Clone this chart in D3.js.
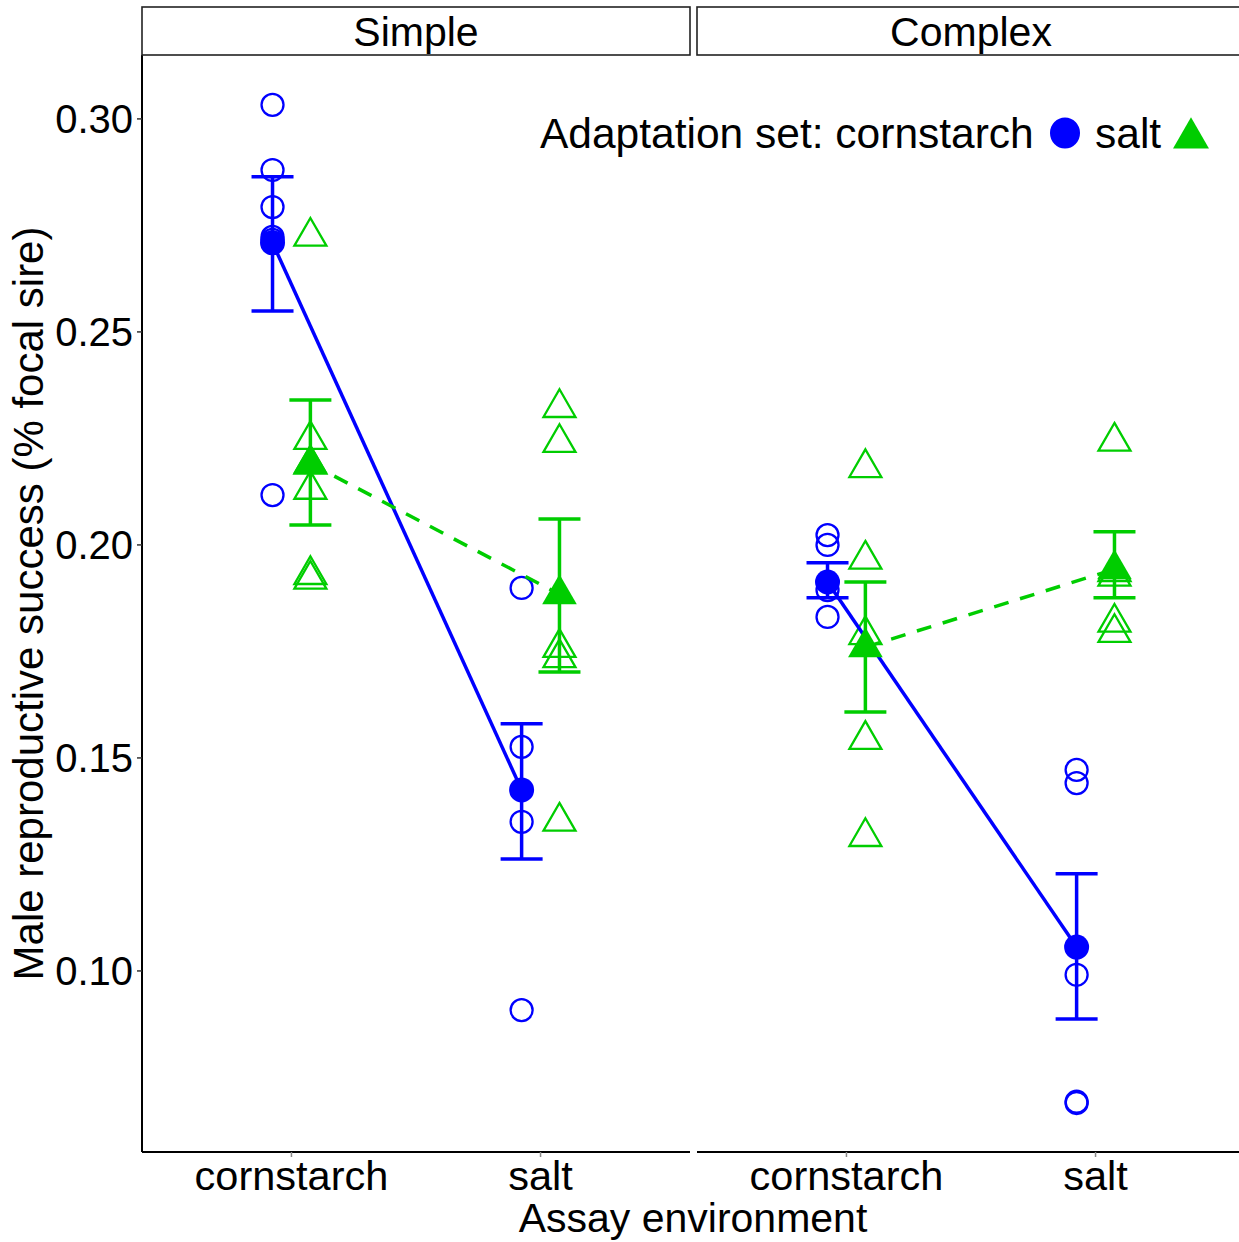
<!DOCTYPE html>
<html>
<head>
<meta charset="utf-8">
<script src="https://cdn.jsdelivr.net/npm/d3@7"></script>
<style>
  body { margin: 0; background: #fff; }
  text { font-family: "Liberation Sans", Arial, sans-serif; fill: #000; }
</style>
</head>
<body>
<div id="chart"></div>
<script>
// facets, assay environments, adaptation sets
const facets = ["Simple", "Complex"];
const environments = ["cornstarch", "salt"];
const adaptationSets = ["cornstarch", "salt"];
const yTicks = [0.10, 0.15, 0.20, 0.25, 0.30];

// replicate values (open symbols)
const simpleCornByCorn = [0.3033, 0.2880, 0.2793, 0.2723, 0.2716, 0.2117];
const simpleSaltByCorn = [0.1899, 0.1526, 0.1350, 0.0908];
const complexCornByCorn = [0.2023, 0.2000, 0.1894, 0.1831];
const complexSaltByCorn = [0.1472, 0.1441, 0.0991, 0.0693, 0.0690];
const simpleCornBySalt = [0.2724, 0.2247, 0.2189, 0.2130, 0.1930, 0.1919];
const simpleSaltBySalt = [0.2322, 0.2240, 0.1759, 0.1735, 0.1351];
const complexCornBySalt = [0.2181, 0.1966, 0.1789, 0.1543, 0.1315];
const complexSaltBySalt = [0.2243, 0.1937, 0.1926, 0.1818, 0.1794];

// means and error bar limits, order: Simple-cornstarch, Simple-salt, Complex-cornstarch, Complex-salt
const meanCorn = [0.2709, 0.1425, 0.1913, 0.1056];
const lowCorn = [0.2549, 0.1263, 0.1876, 0.0887];
const highCorn = [0.2864, 0.1580, 0.1958, 0.1228];
const meanSalt = [0.2191, 0.1884, 0.1760, 0.1943];
const lowSalt = [0.2047, 0.1702, 0.1608, 0.1876];
const highSalt = [0.2340, 0.2061, 0.1913, 0.2031];

const colours = {cornstarch: "#0000FF", salt: "#00CD00"};

const width = 1239, height = 1242;
const panelTop = 55, panelBottom = 1152;
const panelLeft = [142, 697], panelW = 548;

const svg = d3.select("#chart").append("svg")
    .attr("width", width)
    .attr("height", height);

const y = d3.scaleLinear().domain([0.0575, 0.315]).range([panelBottom, panelTop]);

//build tables
const rawByFacet = {
    Simple: [
        {env: "cornstarch", set: "cornstarch", vals: simpleCornByCorn},
        {env: "salt", set: "cornstarch", vals: simpleSaltByCorn},
        {env: "cornstarch", set: "salt", vals: simpleCornBySalt},
        {env: "salt", set: "salt", vals: simpleSaltBySalt}
    ],
    Complex: [
        {env: "cornstarch", set: "cornstarch", vals: complexCornByCorn},
        {env: "salt", set: "cornstarch", vals: complexSaltByCorn},
        {env: "cornstarch", set: "salt", vals: complexCornBySalt},
        {env: "salt", set: "salt", vals: complexSaltBySalt}
    ]
};
function summary(fi){
    let out = [];
    environments.forEach((env, ei) => {
        let k = fi*2 + ei;
        out.push({env: env, set: "cornstarch", m: meanCorn[k], lo: lowCorn[k], hi: highCorn[k]});
        out.push({env: env, set: "salt", m: meanSalt[k], lo: lowSalt[k], hi: highSalt[k]});
    });
    return out;
}

const triangle = d3.symbol().type(d3.symbolTriangle).size(443);

// y axis
const yAxis = svg.append("g").attr("transform", `translate(${panelLeft[0]},0)`);
yAxis.append("line").attr("x1", 0).attr("x2", 0).attr("y1", panelTop).attr("y2", panelBottom)
    .attr("stroke", "#000").attr("stroke-width", 2);
yTicks.forEach(t => {
    yAxis.append("line").attr("x1", -5).attr("x2", 0).attr("y1", y(t)).attr("y2", y(t))
        .attr("stroke", "#333").attr("stroke-width", 1.5);
    yAxis.append("text").attr("x", -9).attr("y", y(t)).attr("dy", "0.36em")
        .attr("text-anchor", "end").style("font-size", "40px").text(t.toFixed(2));
});

svg.append("text")
    .attr("transform", `translate(43,${(panelTop + panelBottom)/2}) rotate(-90)`)
    .attr("text-anchor", "middle").style("font-size", "42px")
    .text("Male reproductive success (% focal sire)");

svg.append("text").attr("x", 693).attr("y", 1232).attr("text-anchor", "middle")
    .style("font-size", "41px").text("Assay environment");

facets.forEach((facet, fi) => {
    const x0 = panelLeft[fi];
    const x = d3.scalePoint().domain(environments).range([x0, x0 + panelW]).padding(0.6);
    const dodge = x.step() * 0.076;
    const xd = (env, set) => x(env) + (set === "cornstarch" ? -dodge : dodge);

    const g = svg.append("g");

    // strip
    g.append("rect").attr("x", x0).attr("y", 7).attr("width", panelW).attr("height", 48)
        .attr("fill", "#fff").attr("stroke", "#222").attr("stroke-width", 1.6);
    g.append("text").attr("x", x0 + panelW/2).attr("y", 31).attr("dy", "0.36em")
        .attr("text-anchor", "middle").style("font-size", "41px").text(facet);

    // x axis
    g.append("line").attr("x1", x0).attr("x2", x0 + panelW).attr("y1", panelBottom).attr("y2", panelBottom)
        .attr("stroke", "#000").attr("stroke-width", 2);
    environments.forEach(env => {
        g.append("line").attr("x1", x(env)).attr("x2", x(env)).attr("y1", panelBottom).attr("y2", panelBottom + 5)
            .attr("stroke", "#888").attr("stroke-width", 1.5);
        g.append("text").attr("x", x(env)).attr("y", 1190).attr("text-anchor", "middle")
            .style("font-size", "41.5px").text(env);
    });

    // replicate points
    rawByFacet[facet].forEach(grp => {
        grp.vals.forEach(v => {
            if (grp.set === "cornstarch") {
                g.append("circle").attr("cx", xd(grp.env, grp.set)).attr("cy", y(v)).attr("r", 11)
                    .attr("fill", "none").attr("stroke", colours.cornstarch).attr("stroke-width", 2.3);
            } else {
                g.append("path").attr("d", triangle)
                    .attr("transform", `translate(${xd(grp.env, grp.set)},${y(v)})`)
                    .attr("fill", "none").attr("stroke", colours.salt).attr("stroke-width", 2.3);
            }
        });
    });

    const sum = summary(fi);

    // lines between means
    adaptationSets.forEach(set => {
        const pts = sum.filter(d => d.set === set);
        g.append("path")
            .attr("d", d3.line().x(d => xd(d.env, d.set)).y(d => y(d.m))(pts))
            .attr("fill", "none").attr("stroke", colours[set]).attr("stroke-width", 3.5)
            .attr("stroke-dasharray", set === "salt" ? "15,12" : null);
    });

    // error bars
    sum.forEach(d => {
        const cx = xd(d.env, d.set);
        const eb = g.append("g").attr("stroke", colours[d.set]).attr("stroke-width", 3.5);
        eb.append("line").attr("x1", cx).attr("x2", cx).attr("y1", y(d.lo)).attr("y2", y(d.hi));
        eb.append("line").attr("x1", cx - 21).attr("x2", cx + 21).attr("y1", y(d.lo)).attr("y2", y(d.lo));
        eb.append("line").attr("x1", cx - 21).attr("x2", cx + 21).attr("y1", y(d.hi)).attr("y2", y(d.hi));
    });

    // means
    sum.forEach(d => {
        const cx = xd(d.env, d.set);
        if (d.set === "cornstarch") {
            g.append("circle").attr("cx", cx).attr("cy", y(d.m)).attr("r", 12.5).attr("fill", colours.cornstarch);
        } else {
            g.append("path").attr("d", d3.symbol().type(d3.symbolTriangle).size(520))
                .attr("transform", `translate(${cx},${y(d.m)})`).attr("fill", colours.salt);
        }
    });
});

// legend
const leg = svg.append("g");
leg.append("text").attr("x", 540).attr("y", 148).style("font-size", "42.5px").text("Adaptation set: cornstarch");
leg.append("ellipse").attr("cx", 1065).attr("cy", 133).attr("rx", 15).attr("ry", 15.5).attr("fill", colours.cornstarch);
leg.append("text").attr("x", 1095).attr("y", 148).style("font-size", "42.5px").text("salt");
leg.append("path").attr("d", d3.symbol().type(d3.symbolTriangle).size(560))
    .attr("transform", "translate(1191,138)").attr("fill", colours.salt);
</script>
</body>
</html>
